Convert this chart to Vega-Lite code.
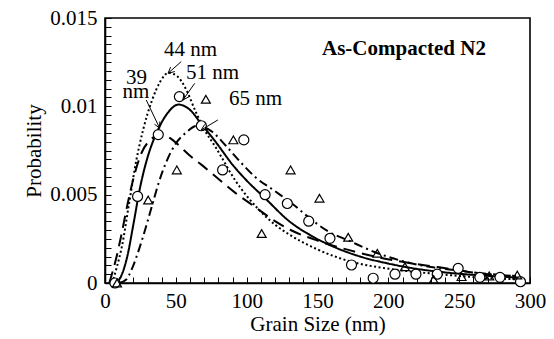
{
  "$schema": "https://vega.github.io/schema/vega-lite/v6.json",
  "width": 425,
  "height": 265,
  "autosize": "none",
  "padding": {"left": 105, "top": 18, "right": 24, "bottom": 56},
  "background": "white",
  "config": {
    "font": "Liberation Serif",
    "view": {"stroke": "black", "strokeWidth": 1.6},
    "axis": {
      "labelFont": "Liberation Serif", "labelFontSize": 21, "labelColor": "black",
      "titleFont": "Liberation Serif", "titleFontSize": 21, "titleFontWeight": "normal", "titleColor": "black",
      "labelOverlap": false, "labelFlush": false
    }
  },
  "title": {"text": "As-Compacted N2", "font": "Liberation Serif", "fontSize": 21, "fontWeight": "bold", "color": "black", "anchor": "start", "frame": "group", "offset": -63, "dx": 217, "baseline": "middle"},
  "datasets": {
    "curves": [
      {"series": "N2-Initial: TEM", "size": 8, "prob": 0},
      {"series": "N2-Initial: TEM", "size": 12, "prob": 0.0005},
      {"series": "N2-Initial: TEM", "size": 16, "prob": 0.0016},
      {"series": "N2-Initial: TEM", "size": 20, "prob": 0.0033},
      {"series": "N2-Initial: TEM", "size": 25, "prob": 0.0055},
      {"series": "N2-Initial: TEM", "size": 30, "prob": 0.0071},
      {"series": "N2-Initial: TEM", "size": 37, "prob": 0.0086},
      {"series": "N2-Initial: TEM", "size": 44, "prob": 0.0096},
      {"series": "N2-Initial: TEM", "size": 52, "prob": 0.0101},
      {"series": "N2-Initial: TEM", "size": 60, "prob": 0.0098},
      {"series": "N2-Initial: TEM", "size": 68, "prob": 0.0090},
      {"series": "N2-Initial: TEM", "size": 78, "prob": 0.0080},
      {"series": "N2-Initial: TEM", "size": 90, "prob": 0.0067},
      {"series": "N2-Initial: TEM", "size": 100, "prob": 0.0058},
      {"series": "N2-Initial: TEM", "size": 113, "prob": 0.0048},
      {"series": "N2-Initial: TEM", "size": 130, "prob": 0.0035},
      {"series": "N2-Initial: TEM", "size": 145, "prob": 0.0027},
      {"series": "N2-Initial: TEM", "size": 160, "prob": 0.0021},
      {"series": "N2-Initial: TEM", "size": 180, "prob": 0.0015},
      {"series": "N2-Initial: TEM", "size": 200, "prob": 0.0011},
      {"series": "N2-Initial: TEM", "size": 220, "prob": 0.0008},
      {"series": "N2-Initial: TEM", "size": 240, "prob": 0.0006},
      {"series": "N2-Initial: TEM", "size": 260, "prob": 0.00046},
      {"series": "N2-Initial: TEM", "size": 280, "prob": 0.00036},
      {"series": "N2-Initial: TEM", "size": 295, "prob": 0.0003},

      {"series": "N2-Initial: XRD", "size": 5, "prob": 0},
      {"series": "N2-Initial: XRD", "size": 8, "prob": 0.0008},
      {"series": "N2-Initial: XRD", "size": 12, "prob": 0.0021},
      {"series": "N2-Initial: XRD", "size": 17, "prob": 0.0045},
      {"series": "N2-Initial: XRD", "size": 22, "prob": 0.0069},
      {"series": "N2-Initial: XRD", "size": 27, "prob": 0.0087},
      {"series": "N2-Initial: XRD", "size": 33, "prob": 0.0103},
      {"series": "N2-Initial: XRD", "size": 39, "prob": 0.0114},
      {"series": "N2-Initial: XRD", "size": 45, "prob": 0.0119},
      {"series": "N2-Initial: XRD", "size": 51, "prob": 0.0117},
      {"series": "N2-Initial: XRD", "size": 57, "prob": 0.0110},
      {"series": "N2-Initial: XRD", "size": 64, "prob": 0.0097},
      {"series": "N2-Initial: XRD", "size": 70, "prob": 0.0087},
      {"series": "N2-Initial: XRD", "size": 78, "prob": 0.0077},
      {"series": "N2-Initial: XRD", "size": 92, "prob": 0.0058},
      {"series": "N2-Initial: XRD", "size": 108, "prob": 0.0042},
      {"series": "N2-Initial: XRD", "size": 120, "prob": 0.0033},
      {"series": "N2-Initial: XRD", "size": 131, "prob": 0.0027},
      {"series": "N2-Initial: XRD", "size": 150, "prob": 0.0019},
      {"series": "N2-Initial: XRD", "size": 174, "prob": 0.0012},
      {"series": "N2-Initial: XRD", "size": 201, "prob": 0.0008},
      {"series": "N2-Initial: XRD", "size": 236, "prob": 0.0005},
      {"series": "N2-Initial: XRD", "size": 272, "prob": 0.00027},
      {"series": "N2-Initial: XRD", "size": 295, "prob": 0.0002},

      {"series": "N2-6 months: TEM", "size": 10, "prob": 0},
      {"series": "N2-6 months: TEM", "size": 15, "prob": 0.0002},
      {"series": "N2-6 months: TEM", "size": 19, "prob": 0.0008},
      {"series": "N2-6 months: TEM", "size": 24, "prob": 0.0019},
      {"series": "N2-6 months: TEM", "size": 29, "prob": 0.0032},
      {"series": "N2-6 months: TEM", "size": 34, "prob": 0.0046},
      {"series": "N2-6 months: TEM", "size": 38, "prob": 0.0057},
      {"series": "N2-6 months: TEM", "size": 43, "prob": 0.0068},
      {"series": "N2-6 months: TEM", "size": 50, "prob": 0.0079},
      {"series": "N2-6 months: TEM", "size": 57, "prob": 0.0085},
      {"series": "N2-6 months: TEM", "size": 65, "prob": 0.0089},
      {"series": "N2-6 months: TEM", "size": 75, "prob": 0.0086},
      {"series": "N2-6 months: TEM", "size": 85, "prob": 0.0078},
      {"series": "N2-6 months: TEM", "size": 95, "prob": 0.0069},
      {"series": "N2-6 months: TEM", "size": 106, "prob": 0.0060},
      {"series": "N2-6 months: TEM", "size": 120, "prob": 0.0052},
      {"series": "N2-6 months: TEM", "size": 132, "prob": 0.0045},
      {"series": "N2-6 months: TEM", "size": 144, "prob": 0.0037},
      {"series": "N2-6 months: TEM", "size": 158, "prob": 0.0029},
      {"series": "N2-6 months: TEM", "size": 172, "prob": 0.0024},
      {"series": "N2-6 months: TEM", "size": 192, "prob": 0.0017},
      {"series": "N2-6 months: TEM", "size": 212, "prob": 0.0012},
      {"series": "N2-6 months: TEM", "size": 230, "prob": 0.0009},
      {"series": "N2-6 months: TEM", "size": 250, "prob": 0.0007},
      {"series": "N2-6 months: TEM", "size": 270, "prob": 0.0005},
      {"series": "N2-6 months: TEM", "size": 290, "prob": 0.0004},

      {"series": "N2-6 months: XRD", "size": 3, "prob": 0},
      {"series": "N2-6 months: XRD", "size": 5.6, "prob": 0.0007},
      {"series": "N2-6 months: XRD", "size": 8.5, "prob": 0.0016},
      {"series": "N2-6 months: XRD", "size": 11.5, "prob": 0.0027},
      {"series": "N2-6 months: XRD", "size": 16, "prob": 0.0045},
      {"series": "N2-6 months: XRD", "size": 21, "prob": 0.0062},
      {"series": "N2-6 months: XRD", "size": 26, "prob": 0.0074},
      {"series": "N2-6 months: XRD", "size": 32, "prob": 0.0081},
      {"series": "N2-6 months: XRD", "size": 39, "prob": 0.0084},
      {"series": "N2-6 months: XRD", "size": 46, "prob": 0.0082},
      {"series": "N2-6 months: XRD", "size": 52, "prob": 0.0078},
      {"series": "N2-6 months: XRD", "size": 60, "prob": 0.0072},
      {"series": "N2-6 months: XRD", "size": 68, "prob": 0.0067},
      {"series": "N2-6 months: XRD", "size": 77, "prob": 0.0061},
      {"series": "N2-6 months: XRD", "size": 92, "prob": 0.0051},
      {"series": "N2-6 months: XRD", "size": 106, "prob": 0.0043},
      {"series": "N2-6 months: XRD", "size": 120, "prob": 0.0035},
      {"series": "N2-6 months: XRD", "size": 131, "prob": 0.0030},
      {"series": "N2-6 months: XRD", "size": 150, "prob": 0.0024},
      {"series": "N2-6 months: XRD", "size": 166, "prob": 0.0020},
      {"series": "N2-6 months: XRD", "size": 185, "prob": 0.0016},
      {"series": "N2-6 months: XRD", "size": 210, "prob": 0.0012},
      {"series": "N2-6 months: XRD", "size": 235, "prob": 0.0009},
      {"series": "N2-6 months: XRD", "size": 260, "prob": 0.0006},
      {"series": "N2-6 months: XRD", "size": 290, "prob": 0.0004}
    ],
    "markers": [
      {"series": "N2-Initial: TEM", "size": 7, "prob": 0},
      {"series": "N2-Initial: TEM", "size": 23, "prob": 0.0049},
      {"series": "N2-Initial: TEM", "size": 37.6, "prob": 0.0084},
      {"series": "N2-Initial: TEM", "size": 52.5, "prob": 0.01055},
      {"series": "N2-Initial: TEM", "size": 68, "prob": 0.0089},
      {"series": "N2-Initial: TEM", "size": 83, "prob": 0.0064},
      {"series": "N2-Initial: TEM", "size": 98, "prob": 0.0081},
      {"series": "N2-Initial: TEM", "size": 113, "prob": 0.0050},
      {"series": "N2-Initial: TEM", "size": 128.7, "prob": 0.0045},
      {"series": "N2-Initial: TEM", "size": 143.8, "prob": 0.0035},
      {"series": "N2-Initial: TEM", "size": 158.8, "prob": 0.00253},
      {"series": "N2-Initial: TEM", "size": 174, "prob": 0.00102},
      {"series": "N2-Initial: TEM", "size": 189.3, "prob": 0.00027},
      {"series": "N2-Initial: TEM", "size": 204.7, "prob": 0.0005},
      {"series": "N2-Initial: TEM", "size": 219.5, "prob": 0.0005},
      {"series": "N2-Initial: TEM", "size": 234.5, "prob": 0.0005},
      {"series": "N2-Initial: TEM", "size": 249.3, "prob": 0.00083},
      {"series": "N2-Initial: TEM", "size": 264.6, "prob": 0.00032},
      {"series": "N2-Initial: TEM", "size": 278.8, "prob": 0.00032},
      {"series": "N2-Initial: TEM", "size": 293.3, "prob": 0.00007},
      {"series": "N2-6 months: TEM", "size": 8.5, "prob": 0},
      {"series": "N2-6 months: TEM", "size": 30.5, "prob": 0.0047},
      {"series": "N2-6 months: TEM", "size": 50.7, "prob": 0.0064},
      {"series": "N2-6 months: TEM", "size": 71.2, "prob": 0.0104},
      {"series": "N2-6 months: TEM", "size": 90.6, "prob": 0.0081},
      {"series": "N2-6 months: TEM", "size": 110.6, "prob": 0.0028},
      {"series": "N2-6 months: TEM", "size": 131, "prob": 0.0064},
      {"series": "N2-6 months: TEM", "size": 151.4, "prob": 0.0048},
      {"series": "N2-6 months: TEM", "size": 171.7, "prob": 0.00259},
      {"series": "N2-6 months: TEM", "size": 192.2, "prob": 0.00168},
      {"series": "N2-6 months: TEM", "size": 211.7, "prob": 0.00092},
      {"series": "N2-6 months: TEM", "size": 232, "prob": 0.0002},
      {"series": "N2-6 months: TEM", "size": 251.7, "prob": 0.00036},
      {"series": "N2-6 months: TEM", "size": 271.2, "prob": 0.0004},
      {"series": "N2-6 months: TEM", "size": 291, "prob": 0.00045}
    ],
    "labels": [
      {"text": "44 nm", "size": 60.3, "prob": 0.01319},
      {"text": "39", "size": 22.2, "prob": 0.01163},
      {"text": "nm", "size": 21.9, "prob": 0.01081},
      {"text": "51 nm", "size": 75.9, "prob": 0.01186},
      {"text": "65 nm", "size": 106.3, "prob": 0.01041}
    ],
    "arrows": [
      {"size": 53.8, "prob": 0.01253, "size2": 44.5, "prob2": 0.01187},
      {"size": 49.3, "prob": 0.01197, "size2": 44.5, "prob2": 0.01187},
      {"size": 46.3, "prob": 0.01222, "size2": 44.5, "prob2": 0.01187},
      {"size": 29.1, "prob": 0.01036, "size2": 38.6, "prob2": 0.00876},
      {"size": 34.9, "prob": 0.00899, "size2": 38.6, "prob2": 0.00876},
      {"size": 38.7, "prob": 0.00914, "size2": 38.6, "prob2": 0.00876},
      {"size": 63.3, "prob": 0.0113, "size2": 55, "prob2": 0.01036},
      {"size": 59.2, "prob": 0.01054, "size2": 55, "prob2": 0.01036},
      {"size": 55.7, "prob": 0.01073, "size2": 55, "prob2": 0.01036},
      {"size": 79.7, "prob": 0.00923, "size2": 67.9, "prob2": 0.00866},
      {"size": 72.6, "prob": 0.00869, "size2": 67.9, "prob2": 0.00866},
      {"size": 70.4, "prob": 0.00898, "size2": 67.9, "prob2": 0.00866}
    ],
    "legendrows": [
      {"series": "N2-Initial: TEM"},
      {"series": "N2-Initial: XRD"},
      {"series": "N2-6 months: TEM"},
      {"series": "N2-6 months: XRD"}
    ]
  },
  "layer": [
    {
      "encoding": {
        "x": {"field": "size", "type": "quantitative", "scale": {"domain": [0, 300], "nice": false},
          "axis": {"orient": "bottom", "title": "Grain Size (nm)", "titlePadding": 2, "labelPadding": 13,
            "ticks": true, "tickColor": "black", "tickWidth": 1, "tickOpacity": 1, "tickSize": -6,
            "domain": true, "domainColor": "black", "domainWidth": 1.6, "grid": false,
            "values": [0,10,20,30,40,50,60,70,80,90,100,110,120,130,140,150,160,170,180,190,200,210,220,230,240,250,260,270,280,290,300],
            "labelExpr": "datum.value % 50 === 0 ? datum.label : ''"}},
        "y": {"field": "prob", "type": "quantitative", "scale": {"domain": [0, 0.015], "nice": false},
          "axis": {"orient": "left", "title": "Probability", "titlePadding": 5, "labelPadding": 14,
            "ticks": true, "tickColor": "black", "tickWidth": 1, "tickOpacity": 1, "tickSize": -6,
            "domain": true, "domainColor": "black", "domainWidth": 1.6, "grid": false,
            "values": [0,0.0005,0.001,0.0015,0.002,0.0025,0.003,0.0035,0.004,0.0045,0.005,0.0055,0.006,0.0065,0.007,0.0075,0.008,0.0085,0.009,0.0095,0.01,0.0105,0.011,0.0115,0.012,0.0125,0.013,0.0135,0.014,0.0145,0.015],
            "labelExpr": "round(datum.value*10000) % 50 === 0 ? format(datum.value, '.3~f') : ''"}}
      },
      "layer": [
        {
          "data": {"name": "curves"},
          "mark": {"type": "line", "interpolate": "monotone", "color": "black", "strokeWidth": 2},
          "encoding": {
            "detail": {"field": "series"},
            "strokeDash": {"field": "series", "type": "nominal", "legend": null,
              "scale": {"domain": ["N2-Initial: TEM", "N2-Initial: XRD", "N2-6 months: TEM", "N2-6 months: XRD"],
                "range": [[1, 0], [2, 2.5], [9, 4, 2, 4], [12, 7]]}}
          }
        },
        {
          "data": {"name": "markers"},
          "transform": [{"filter": "datum.series === 'N2-Initial: TEM'"}],
          "mark": {"type": "point", "shape": "circle", "filled": true, "fill": "white", "opacity": 1, "stroke": "black", "strokeWidth": 1.2, "size": 100}
        },
        {
          "data": {"name": "markers"},
          "transform": [{"filter": "datum.series === 'N2-6 months: TEM'"}],
          "mark": {"type": "point", "shape": "triangle-up", "filled": false, "opacity": 1, "stroke": "black", "strokeWidth": 1.2, "size": 80}
        },
        {
          "data": {"name": "arrows"},
          "mark": {"type": "rule", "color": "black", "strokeWidth": 1},
          "encoding": {
            "x2": {"field": "size2"},
            "y2": {"field": "prob2"}
          }
        },
        {
          "data": {"name": "labels"},
          "mark": {"type": "text", "font": "Liberation Serif", "fontSize": 21, "color": "black", "align": "center", "baseline": "middle"},
          "encoding": {
            "text": {"field": "text"}
          }
        }
      ]
    },
    {
      "data": {"name": "legendrows"},
      "mark": {"type": "point", "size": 100, "opacity": 0, "filled": false, "stroke": "black"},
      "encoding": {
        "shape": {"field": "series", "type": "nominal", "title": null,
          "scale": {"domain": ["N2-Initial: TEM", "N2-Initial: XRD", "N2-6 months: TEM", "N2-6 months: XRD"],
            "range": [
              "M-1,0H2.5M4.5,0H8M2.5,0A1,1 0 1,1 4.5,0A1,1 0 1,1 2.5,0",
              "M-1,0h0.35M-0.4,0h0.35M0.2,0h0.35M0.8,0h0.35M1.4,0h0.35M2,0h0.35M2.6,0h0.35M3.2,0h0.35M3.8,0h0.35M4.4,0h0.35M5,0h0.35M5.6,0h0.35M6.2,0h0.35M6.8,0h0.35M7.4,0h0.35",
              "M-1,0H2.4M4.6,0H5.2M5.8,0H6.4M7,0H7.6M3.5,-1L4.6,0.9L2.4,0.9Z",
              "M-1,0H0.8M2,0H3.8M5,0H6.8M8,0H8"
            ]},
          "legend": {"orient": "none", "legendX": 183, "legendY": 44, "symbolOpacity": 1,
            "labelFontSize": 21, "labelLimit": 400, "labelOffset": 38,
            "strokeColor": "black", "fillColor": "white", "padding": 4}
        }
      }
    }
  ]
}
